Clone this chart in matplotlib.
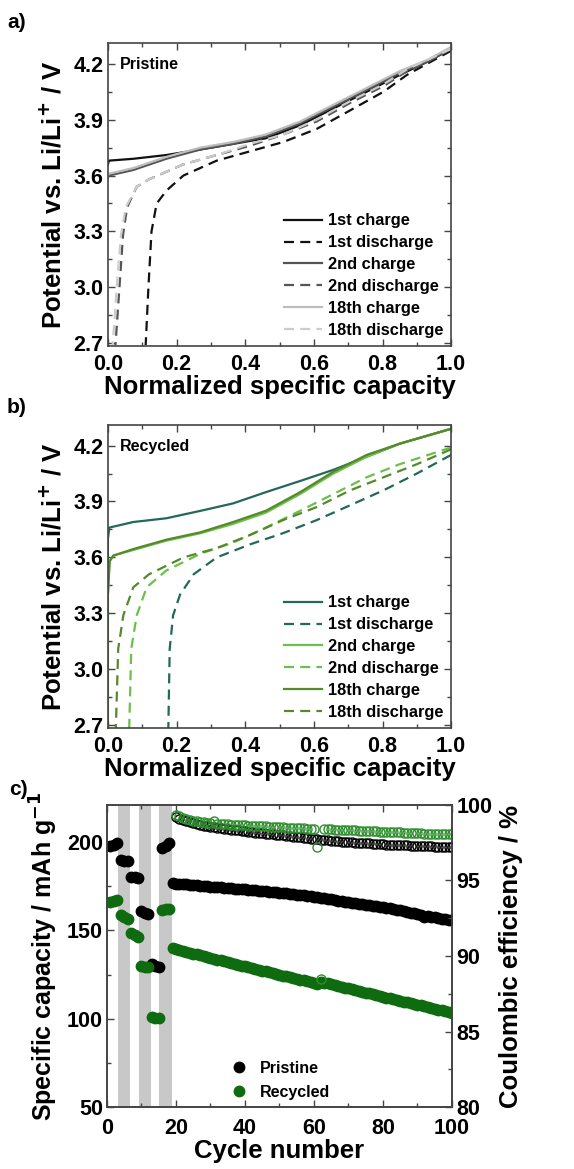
import matplotlib
matplotlib.use("Agg")
import matplotlib.pyplot as plt
from matplotlib.ticker import MultipleLocator

plt.rcParams['font.family'] = ['Liberation Sans', 'DejaVu Sans']
plt.rcParams['font.weight'] = 'bold'
plt.rcParams['axes.labelweight'] = 'bold'
plt.rcParams['mathtext.default'] = 'bf'

# ---- panel a: pristine voltage profiles (normalized capacity, V) ----
a_ch1_x = [0.0, 0.003, 0.074, 0.17, 0.27, 0.365, 0.46, 0.56, 0.657, 0.754, 0.85, 0.93, 1.0]
a_ch1_y = [3.66, 3.68, 3.69, 3.71, 3.74, 3.77, 3.80, 3.87, 3.96, 4.05, 4.14, 4.21, 4.28]
a_dis1_x = [1.0, 0.93, 0.871, 0.803, 0.706, 0.608, 0.511, 0.414, 0.317, 0.22, 0.171, 0.142, 0.127, 0.118, 0.11]
a_dis1_y = [4.27, 4.20, 4.14, 4.05, 3.95, 3.85, 3.78, 3.73, 3.68, 3.60, 3.52, 3.45, 3.30, 3.0, 2.69]
a_ch2_x = [0.0, 0.003, 0.074, 0.17, 0.27, 0.365, 0.46, 0.56, 0.657, 0.754, 0.85, 0.93, 1.0]
a_ch2_y = [3.59, 3.60, 3.63, 3.69, 3.74, 3.77, 3.81, 3.88, 3.97, 4.06, 4.15, 4.21, 4.28]
a_dis2_x = [1.0, 0.93, 0.871, 0.803, 0.706, 0.608, 0.51, 0.414, 0.317, 0.22, 0.12, 0.084, 0.056, 0.044, 0.034, 0.022]
a_dis2_y = [4.28, 4.21, 4.16, 4.08, 3.99, 3.89, 3.82, 3.76, 3.71, 3.66, 3.58, 3.54, 3.43, 3.28, 3.01, 2.69]
a_ch18_x = [0.0, 0.003, 0.074, 0.17, 0.27, 0.365, 0.46, 0.56, 0.657, 0.754, 0.85, 0.93, 1.0]
a_ch18_y = [3.60, 3.61, 3.64, 3.70, 3.75, 3.78, 3.82, 3.89, 3.98, 4.07, 4.16, 4.22, 4.29]
a_dis18_x = [1.0, 0.93, 0.871, 0.803, 0.706, 0.608, 0.51, 0.414, 0.317, 0.22, 0.12, 0.084, 0.052, 0.038, 0.026, 0.014]
a_dis18_y = [4.28, 4.22, 4.17, 4.09, 4.00, 3.90, 3.82, 3.77, 3.71, 3.66, 3.58, 3.54, 3.43, 3.28, 3.01, 2.69]

# ---- panel b: recycled voltage profiles ----
b_ch1_x = [0.0, 0.0, 0.004, 0.074, 0.17, 0.27, 0.365, 0.46, 0.56, 0.657, 0.754, 0.85, 1.0]
b_ch1_y = [3.50, 3.70, 3.76, 3.79, 3.81, 3.85, 3.89, 3.95, 4.01, 4.07, 4.14, 4.21, 4.29]
b_dis1_x = [1.0, 0.9, 0.803, 0.706, 0.608, 0.51, 0.414, 0.317, 0.25, 0.21, 0.19, 0.18, 0.176]
b_dis1_y = [4.15, 4.05, 3.96, 3.88, 3.80, 3.73, 3.67, 3.60, 3.51, 3.40, 3.29, 3.11, 2.68]
b_ch2_x = [0.0, 0.0, 0.005, 0.016, 0.074, 0.17, 0.27, 0.365, 0.46, 0.56, 0.657, 0.754, 0.85, 1.0]
b_ch2_y = [2.68, 3.40, 3.58, 3.61, 3.64, 3.69, 3.73, 3.78, 3.84, 3.94, 4.05, 4.14, 4.21, 4.29]
b_dis2_x = [1.0, 0.85, 0.754, 0.657, 0.56, 0.46, 0.365, 0.27, 0.17, 0.113, 0.084, 0.068, 0.062]
b_dis2_y = [4.19, 4.10, 4.03, 3.94, 3.85, 3.76, 3.68, 3.62, 3.53, 3.44, 3.29, 3.11, 2.68]
b_ch18_x = [0.0, 0.0, 0.005, 0.016, 0.074, 0.17, 0.27, 0.365, 0.46, 0.56, 0.657, 0.754, 0.85, 1.0]
b_ch18_y = [2.68, 3.40, 3.58, 3.61, 3.645, 3.695, 3.735, 3.79, 3.85, 3.95, 4.06, 4.15, 4.21, 4.29]
b_dis18_x = [1.0, 0.9, 0.803, 0.706, 0.608, 0.51, 0.414, 0.317, 0.22, 0.12, 0.074, 0.045, 0.03, 0.023]
b_dis18_y = [4.18, 4.10, 4.03, 3.96, 3.87, 3.80, 3.72, 3.65, 3.60, 3.51, 3.44, 3.29, 3.11, 2.68]

curve_labels = ["1st charge", "1st discharge", "2nd charge", "2nd discharge", "18th charge", "18th discharge"]

# ---- panel c: cycling ----
cycles = list(range(1, 101))
pristine_cap = [197.5, 198.5, 199.5, 190.0, 189.5, 189.5, 180.5, 180.0, 179.5,
                161.0, 160.0, 159.0, 131.0, 130.0, 129.0, 196.5, 198.0, 199.5,
                177.0, 176.5, 176.3, 176.1, 176.0, 175.8, 175.6, 175.5, 175.3, 175.2,
                175.0, 174.8, 174.7, 174.5, 174.3, 174.2, 174.0, 173.8, 173.7, 173.5,
                173.3, 173.2, 173.0, 172.8, 172.7, 172.5, 172.3, 172.1, 171.9, 171.7,
                171.5, 171.3, 171.1, 170.9, 170.7, 170.5, 170.3, 170.0, 169.8, 169.6,
                169.3, 169.0, 168.7, 168.4, 168.1, 167.8, 167.5, 167.2, 166.9, 166.6,
                166.3, 166.0, 165.7, 165.4, 165.1, 164.8, 164.5, 164.2, 163.9, 163.6,
                163.3, 163.0, 162.7, 162.4, 162.1, 161.7, 161.3, 160.9, 160.5, 160.1,
                159.6, 159.1, 158.6, 157.6, 158.0, 157.6, 157.3, 157.0, 156.7, 156.4,
                156.1, 155.8]
recycled_cap = [166.0, 166.5, 167.0, 158.5, 157.5, 156.5, 148.5, 147.5, 146.5,
                130.0, 129.5, 129.5, 100.8, 100.5, 100.5, 161.5, 162.0, 162.0,
                140.0, 139.4, 138.9, 138.4, 137.9, 137.4, 136.9, 136.4, 135.9, 135.4,
                134.9, 134.4, 134.0, 133.5, 133.0, 132.5, 132.0, 131.5, 131.1, 130.6,
                130.1, 129.6, 129.1, 128.7, 128.2, 127.7, 127.2, 126.8, 126.3, 125.8,
                125.4, 124.9, 124.4, 124.0, 123.5, 123.0, 122.6, 122.1, 121.7, 121.2,
                120.8, 120.3, 119.9, 121.0, 120.5, 120.0, 119.5, 119.0, 118.6, 118.1,
                117.6, 117.2, 116.7, 116.2, 115.8, 115.3, 114.8, 114.4, 113.9, 113.4,
                113.0, 112.5, 112.0, 111.6, 111.1, 110.7, 110.2, 109.7, 109.3, 108.8,
                108.4, 107.9, 107.5, 107.0, 106.6, 106.1, 105.7, 105.2, 104.8, 104.3,
                103.9, 103.4]
ce_cycles = list(range(20, 101))
recycled_ce = [99.35, 99.25, 99.15, 99.08, 99.02, 98.97, 98.93, 98.89, 98.86, 98.83,
               98.80, 98.92, 98.76, 98.74, 98.72, 98.71, 98.70, 98.69, 98.68, 98.67,
               98.66, 98.64, 98.63, 98.62, 98.60, 98.59, 98.58, 98.56, 98.55, 98.54,
               98.53, 98.52, 98.50, 98.49, 98.48, 98.47, 98.46, 98.45, 98.44, 98.43,
               98.42, 97.20, 88.50, 98.40, 98.39, 98.38, 98.37, 98.36, 98.35, 98.34,
               98.33, 98.32, 98.31, 98.30, 98.29, 98.28, 98.27, 98.26, 98.25, 98.24,
               98.23, 98.22, 98.21, 98.20, 98.19, 98.18, 98.17, 98.16, 98.15, 98.14,
               98.13, 98.12, 98.11, 98.11, 98.10, 98.10, 98.09, 98.09, 98.08, 98.08,
               98.07]
pristine_ce = [99.20, 99.10, 99.00, 98.92, 98.85, 98.79, 98.73, 98.68, 98.63, 98.59,
               98.55, 98.52, 98.49, 98.46, 98.43, 98.40, 98.37, 98.34, 98.31, 98.28,
               98.25, 98.22, 98.20, 98.17, 98.15, 98.12, 98.10, 98.07, 98.05, 98.03,
               98.00, 97.98, 97.95, 97.93, 97.90, 97.88, 97.85, 97.82, 97.80, 97.77,
               97.74, 97.72, 97.70, 97.68, 97.66, 97.64, 97.62, 97.60, 97.58, 97.56,
               97.55, 97.53, 97.51, 97.50, 97.48, 97.47, 97.45, 97.44, 97.42, 97.41,
               97.40, 97.38, 97.37, 97.36, 97.35, 97.34, 97.33, 97.32, 97.31, 97.30,
               97.29, 97.28, 97.27, 97.26, 97.26, 97.25, 97.24, 97.24, 97.23, 97.23,
               97.22]
bands = [(3.2, 6.7), (9.2, 12.7), (15.2, 18.8)]

fig = plt.figure(figsize=(5.74, 11.69), dpi=100)

dash = (0, (4.5, 2.8))
spine_col = "#444444"
tick_fs = 15.5
label_fs = 18.5


def style_axes(ax):
    for s in ax.spines.values():
        s.set_color(spine_col)
        s.set_linewidth(1.2)
    ax.tick_params(which='both', direction='in', top=True, right=True,
                   labelsize=tick_fs, colors=spine_col, labelcolor='black', pad=3)
    ax.tick_params(axis='x', pad=6)
    ax.tick_params(which='major', length=5, width=1)
    ax.tick_params(which='minor', length=3, width=1)


def profile_panel(rect, curves, colors, tag):
    ax = fig.add_axes(rect)
    for i, (x, y) in enumerate(curves):
        ls = '-' if i % 2 == 0 else dash
        ax.plot(x, y, color=colors[i], lw=1.6, linestyle=ls, label=curve_labels[i])
    ax.set_xlim(0, 1.0)
    ax.set_ylim(2.685, 4.31)
    ax.xaxis.set_major_locator(MultipleLocator(0.2))
    ax.xaxis.set_minor_locator(MultipleLocator(0.1))
    ax.yaxis.set_major_locator(MultipleLocator(0.3))
    ax.yaxis.set_minor_locator(MultipleLocator(0.15))
    ax.set_xticks([0.0, 0.2, 0.4, 0.6, 0.8, 1.0])
    ax.set_xticklabels(["0.0", "0.2", "0.4", "0.6", "0.8", "1.0"])
    style_axes(ax)
    ax.set_xlabel("Normalized specific capacity", fontsize=label_fs, labelpad=0)
    ax.set_ylabel("Potential vs. Li/Li$^{+}$ / V", fontsize=label_fs, labelpad=5)
    ax.text(0.035, 0.93, tag, transform=ax.transAxes, fontsize=11.5,
            fontweight='bold', va='center')
    ax.legend(loc='lower right', frameon=False, fontsize=11.8, handlelength=2.3,
              handletextpad=0.35, labelspacing=0.42, borderaxespad=0.1,
              bbox_to_anchor=(1.0, 0.0))
    return ax


gray_cols = ["#111111", "#111111", "#555555", "#555555", "#bdbdbd", "#cccccc"]
profile_panel([0.188, 0.704, 0.598, 0.259],
              [(a_ch1_x, a_ch1_y), (a_dis1_x, a_dis1_y), (a_ch2_x, a_ch2_y),
               (a_dis2_x, a_dis2_y), (a_ch18_x, a_ch18_y), (a_dis18_x, a_dis18_y)],
              gray_cols, "Pristine")

green_cols = ["#22695a", "#22695a", "#6cc04a", "#6cc04a", "#55892a", "#55892a"]
profile_panel([0.188, 0.3772, 0.598, 0.2592],
              [(b_ch1_x, b_ch1_y), (b_dis1_x, b_dis1_y), (b_ch2_x, b_ch2_y),
               (b_dis2_x, b_dis2_y), (b_ch18_x, b_ch18_y), (b_dis18_x, b_dis18_y)],
              green_cols, "Recycled")

# ---- panel c ----
axc = fig.add_axes([0.1864, 0.053, 0.601, 0.2584])
for lo, hi in bands:
    axc.axvspan(lo, hi, color="#c8c8c8", lw=0, zorder=0)
axc.plot(cycles, pristine_cap, 'o', color='black', ms=7.5, label="Pristine", zorder=3)
axc.plot(cycles, recycled_cap, 'o', color='#0f6b0f', ms=7.5, label="Recycled", zorder=3)
axc.set_xlim(0, 100)
axc.set_ylim(50, 221)
axc.xaxis.set_major_locator(MultipleLocator(20))
axc.xaxis.set_minor_locator(MultipleLocator(10))
axc.yaxis.set_major_locator(MultipleLocator(50))
axc.yaxis.set_minor_locator(MultipleLocator(25))
style_axes(axc)
axc.tick_params(right=False, which='both')
axc.tick_params(axis='x', pad=8)
axc.set_xlabel("Cycle number", fontsize=label_fs, labelpad=0)
axc.set_ylabel("Specific capacity / mAh g$^{-1}$", fontsize=18, labelpad=5)
axc.legend(loc='lower left', bbox_to_anchor=(0.34, 0.0), frameon=False, fontsize=11.5,
           handlelength=1.0, handletextpad=0.8, labelspacing=0.55, markerscale=1.0,
           borderaxespad=0.05)

axr = axc.twinx()
axr.plot(ce_cycles, pristine_ce, 'o', mfc='none', mec='black', mew=1.0, ms=6.5, zorder=2)
axr.plot(ce_cycles, recycled_ce, 'o', mfc='none', mec='#2f8f2f', mew=1.0, ms=6.5, zorder=2)
axr.set_ylim(80, 100)
axr.yaxis.set_major_locator(MultipleLocator(5))
axr.yaxis.set_minor_locator(MultipleLocator(2.5))
for s in axr.spines.values():
    s.set_color(spine_col)
    s.set_linewidth(1.2)
axr.tick_params(which='both', direction='in', labelsize=tick_fs, colors=spine_col,
                labelcolor='black', pad=3)
axr.tick_params(which='major', length=5, width=1)
axr.tick_params(which='minor', length=3, width=1)
axr.set_ylabel("Coulombic efficiency / %", fontsize=label_fs, labelpad=5)

fig.text(0.012, 0.981, "a)", fontsize=15, fontweight='bold', va='center')
fig.text(0.012, 0.651, "b)", fontsize=15, fontweight='bold', va='center')
fig.text(0.016, 0.325, "c)", fontsize=15, fontweight='bold', va='center')

fig.savefig("out.png", dpi=100)
